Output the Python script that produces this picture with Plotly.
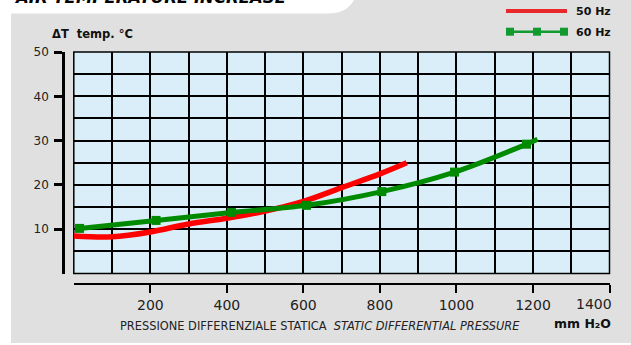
import plotly.graph_objects as go

W, H = 631, 345

# ---- data -------------------------------------------------------------
# 50 Hz: temperature rise vs static pressure
red_x = [0, 100, 200, 300, 400, 500, 600, 700, 800, 870]
red_y = [8.5, 8.3, 9.4, 11.2, 12.5, 14.1, 16.3, 19.4, 22.5, 25.0]

# 60 Hz: measured points (marked) plus the end of the curve
green_x = [15, 215, 412, 608, 805, 995, 1183, 1212]
green_y = [10.2, 12.0, 13.8, 15.4, 18.5, 22.9, 29.2, 30.3]
n_marked = 7

x_ticks = [200, 400, 600, 800, 1000, 1200, 1400]
x_labels = ["200", "400", "600", "800", "1000", "1200", "1400"]
y_ticks = [10, 20, 30, 40, 50]
y_labels = ["10", "20", "30", "40", "50"]

RED = "#ff0000"
GREEN = "#008a00"
PANEL = "#e0e0e0"
GRIDFILL = "#d9eef9"
FONT = "DejaVu Sans"


def px(x):
    return x / W


def py(y):
    return 1 - y / H


fig = go.Figure()

fig.add_trace(go.Scatter(
    x=red_x, y=red_y, mode="lines",
    line=dict(color=RED, width=5.5, shape="spline"),
    cliponaxis=False, showlegend=False, name="50 Hz"))

fig.add_trace(go.Scatter(
    x=green_x, y=green_y, mode="lines",
    line=dict(color=GREEN, width=5, shape="spline"),
    cliponaxis=False, showlegend=False, name="60 Hz"))

fig.add_trace(go.Scatter(
    x=green_x[:n_marked], y=green_y[:n_marked], mode="markers",
    marker=dict(symbol="square", size=9, color=GREEN),
    cliponaxis=False, showlegend=False, name="60 Hz"))

# ---- shapes: page frame, plot border, legend glyphs ---------------------
shapes = [
    dict(type="rect", xref="paper", yref="paper", x0=0, x1=px(11), y0=0, y1=1,
         fillcolor="white", line=dict(width=0), layer="below"),
    dict(type="rect", xref="paper", yref="paper", x0=0, x1=1, y0=0, y1=py(343),
         fillcolor="white", line=dict(width=0), layer="below"),
    dict(type="path", xref="paper", yref="paper",
         path=(f"M 0,{py(0)} L {px(354)},{py(0)} "
               f"C {px(349)},{py(8)} {px(343)},{py(13.5)} {px(328)},{py(13.5)} "
               f"L 0,{py(13.5)} Z"),
         fillcolor="white", line=dict(width=0), layer="below"),
    dict(type="rect", xref="x domain", yref="y domain", x0=0, x1=1, y0=0, y1=1,
         line=dict(color="black", width=1.5), layer="below"),
    # legend glyphs
    dict(type="line", xref="paper", yref="paper", x0=px(506), x1=px(567),
         y0=py(11), y1=py(11), line=dict(color="#e8282a", width=4)),
    dict(type="line", xref="paper", yref="paper", x0=px(506), x1=px(567),
         y0=py(31.7), y1=py(31.7), line=dict(color="#109a30", width=2.5)),
]
for cx in (510, 537, 564):
    shapes.append(dict(type="rect", xref="paper", yref="paper",
                       x0=px(cx - 4), x1=px(cx + 4), y0=py(35.7), y1=py(27.7),
                       fillcolor="#109a30", line=dict(width=0)))

tick_font = dict(family=FONT, size=14, color="#222")

annotations = [
    dict(text="<b><i>AIR TEMPERATURE INCREASE</i></b>", xref="paper", yref="paper",
         x=px(12), y=py(9), xanchor="left", yanchor="bottom", showarrow=False,
         font=dict(family=FONT, size=16.5, color="black")),
    dict(text="<b>\u0394T\u00a0\u00a0temp. \u00b0C</b>", xref="paper", yref="paper",
         x=px(50), y=py(34.5), xanchor="left", yanchor="middle", showarrow=False,
         font=dict(family=FONT, size=11.5, color="#111")),
    dict(text="PRESSIONE DIFFERENZIALE STATICA\u00a0\u00a0<i>STATIC DIFFERENTIAL PRESSURE</i>",
         xref="paper", yref="paper", x=px(118), y=py(325.5), xanchor="left",
         yanchor="middle", showarrow=False,
         font=dict(family=FONT, size=11.4, color="#222")),
    dict(text="<b>mm H\u2082O</b>", xref="paper", yref="paper", x=px(613), y=py(323),
         xanchor="right", yanchor="middle", showarrow=False,
         font=dict(family=FONT, size=12.5, color="#111")),
    dict(text="<b>50 Hz</b>", xref="paper", yref="paper", x=px(574), y=py(11.5),
         xanchor="left", yanchor="middle", showarrow=False,
         font=dict(family=FONT, size=11, color="#111")),
    dict(text="<b>60 Hz</b>", xref="paper", yref="paper", x=px(574), y=py(32),
         xanchor="left", yanchor="middle", showarrow=False,
         font=dict(family=FONT, size=11, color="#111")),
    # last x label is right-aligned to its tick so it stays on the page
    dict(text=x_labels[-1], xref="x", yref="paper", x=x_ticks[-1], y=py(303.5),
         xanchor="right", yanchor="middle", xshift=4, showarrow=False,
         font=tick_font),
]

x_text = x_labels[:-1] + [""]

fig.update_layout(
    width=W, height=H,
    margin=dict(l=0, r=0, t=0, b=0),
    paper_bgcolor=PANEL, plot_bgcolor=GRIDFILL,
    showlegend=False,
    shapes=shapes, annotations=annotations,
    xaxis=dict(
        domain=[px(73.8), px(609.5)], range=[0, 1400],
        anchor="free", position=py(284),
        showline=True, linecolor="black", linewidth=2,
        ticks="outside", ticklen=8, tickwidth=2, tickcolor="black",
        tickmode="array", tickvals=x_ticks, ticktext=x_text,
        tickfont=tick_font,
        showgrid=True, gridcolor="black", gridwidth=1.5,
        minor=dict(tick0=0, dtick=100, showgrid=True, gridcolor="black",
                   gridwidth=1.5, ticks=""),
        zeroline=False, fixedrange=True, automargin=False,
    ),
    yaxis=dict(
        domain=[py(273.6), py(52)], range=[0, 50],
        anchor="free", position=px(63),
        showline=True, linecolor="black", linewidth=2.5,
        ticks="outside", ticklen=8, tickwidth=2.5, tickcolor="black",
        tickmode="array", tickvals=y_ticks, ticktext=y_labels,
        tickfont=dict(family=FONT, size=12, color="#222"),
        ticklabelstandoff=3,
        showgrid=True, gridcolor="black", gridwidth=1.5,
        minor=dict(tick0=0, dtick=5, showgrid=True, gridcolor="black",
                   gridwidth=1.5, ticks=""),
        zeroline=False, fixedrange=True, automargin=False,
    ),
)

fig.write_html("out.html")
